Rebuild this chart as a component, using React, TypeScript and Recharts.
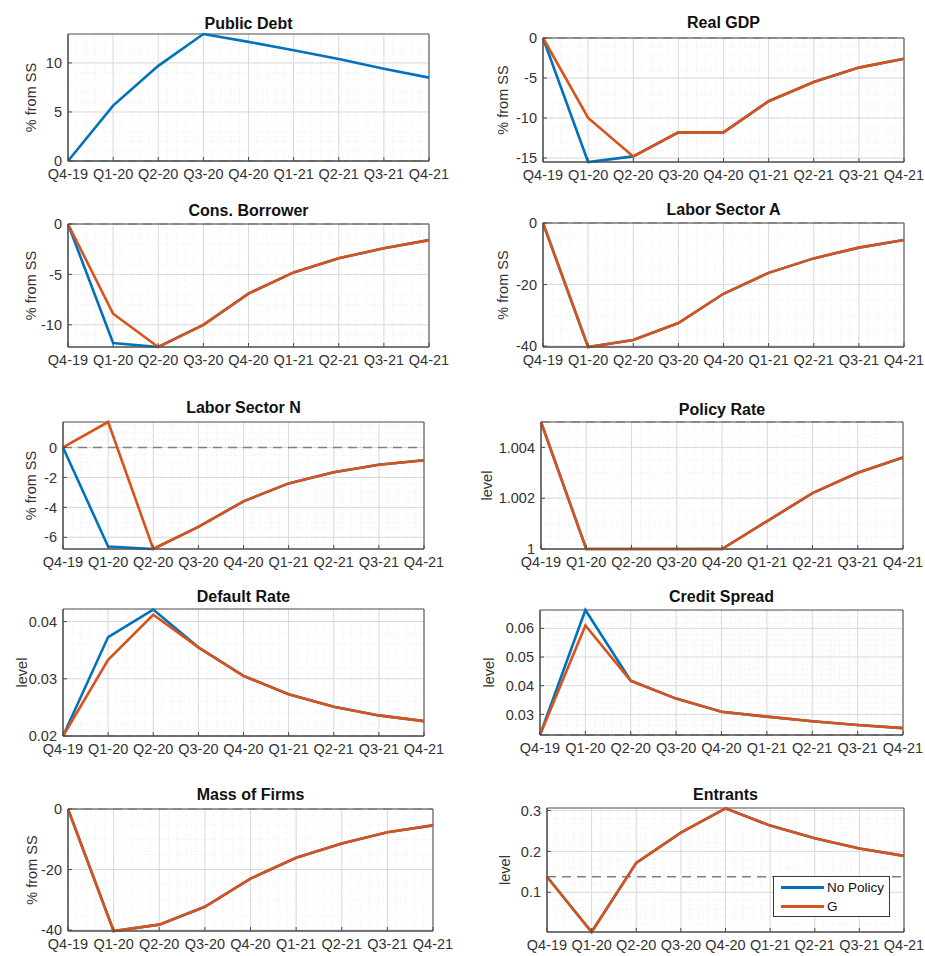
import React from 'react';
import {
  LineChart, Line, XAxis, YAxis, CartesianGrid, ReferenceLine, ReferenceArea, Legend,
} from 'recharts';

const categories = ['Q4-19', 'Q1-20', 'Q2-20', 'Q3-20', 'Q4-20', 'Q1-21', 'Q2-21', 'Q3-21', 'Q4-21'];

const publicDebtNoPolicy = [0, 5.65, 9.7, 12.95, 12.15, 11.3, 10.4, 9.4, 8.5];

const realGdpNoPolicy = [0, -15.5, -14.8, -11.8, -11.8, -7.9, -5.5, -3.7, -2.6];
const realGdpG = [0, -10, -14.8, -11.8, -11.8, -7.9, -5.5, -3.7, -2.6];

const consBorrowerNoPolicy = [0, -11.8, -12.2, -10, -6.9, -4.8, -3.4, -2.4, -1.6];
const consBorrowerG = [0, -8.9, -12.2, -10, -6.9, -4.8, -3.4, -2.4, -1.6];

const laborANoPolicy = [0, -40.3, -38, -32.5, -23, -16.2, -11.5, -8, -5.5];
const laborAG = [0, -40.3, -38, -32.5, -23, -16.2, -11.5, -8, -5.5];

const laborNNoPolicy = [0, -6.62, -6.78, -5.3, -3.6, -2.4, -1.65, -1.15, -0.85];
const laborNG = [0, 1.7, -6.78, -5.3, -3.6, -2.4, -1.65, -1.15, -0.85];

const policyRateNoPolicy = [1.005, 1, 1, 1, 1, 1.0011, 1.0022, 1.003, 1.0036];
const policyRateG = [1.005, 1, 1, 1, 1, 1.0011, 1.0022, 1.003, 1.0036];

const defaultRateNoPolicy = [0.02, 0.0373, 0.0421, 0.0355, 0.0305, 0.0273, 0.0251, 0.0236, 0.0226];
const defaultRateG = [0.02, 0.0333, 0.0412, 0.0355, 0.0305, 0.0273, 0.0251, 0.0236, 0.0226];

const creditSpreadNoPolicy = [0.0228, 0.0664, 0.0417, 0.0355, 0.0309, 0.0292, 0.0276, 0.0263, 0.0252];
const creditSpreadG = [0.0228, 0.061, 0.0417, 0.0355, 0.0309, 0.0292, 0.0276, 0.0263, 0.0252];

const massFirmsNoPolicy = [0, -40.3, -38.2, -32.3, -23, -16.1, -11.4, -7.7, -5.4];
const massFirmsG = [0, -40.3, -38.2, -32.3, -23, -16.1, -11.4, -7.7, -5.4];

const entrantsNoPolicy = [0.138, 0.003, 0.172, 0.246, 0.305, 0.263, 0.232, 0.207, 0.189];
const entrantsG = [0.138, 0.003, 0.172, 0.246, 0.305, 0.263, 0.232, 0.207, 0.189];

const seriesNames = ['No Policy', 'G'];
const BLUE = '#0072BD';
const ORANGE = '#D95319';
const FONT = '"Liberation Sans", Arial, Helvetica, sans-serif';
const TEXT = '#333333';

function minorValues(d0: number, d1: number, step: number): number[] {
  const out: number[] = [];
  const start = Math.ceil(d0 / step - 1e-9);
  for (let k = start; k * step <= d1 + step * 1e-6; k++) out.push(+(k * step).toFixed(7));
  return out;
}

const xTicks = categories.map((_, i) => i);
const xMinor = minorValues(0, categories.length - 1, 0.2);

type PanelProps = {
  title: string;
  yLabel: string;
  L: number; T: number; R: number; B: number;
  labelX: number;
  titleY: number;
  domain: [number, number];
  ticks: number[];
  minorStep: number;
  noPolicy?: number[];
  g?: number[];
  ss: number;
  legend?: boolean;
};

function Panel(p: PanelProps) {
  const yw = 2 * (p.L - p.labelX);
  const mt = 12;
  const mr = 26;
  const xh = 34;
  const left = p.L - yw;
  const top = p.T - mt;
  const width = yw + (p.R - p.L) + mr;
  const height = mt + (p.B - p.T) + xh;
  const rows = categories.map((c, i) => ({
    idx: i,
    cat: c,
    np: p.noPolicy ? p.noPolicy[i] : undefined,
    g: p.g ? p.g[i] : undefined,
  }));
  const yMinor = minorValues(p.domain[0], p.domain[1], p.minorStep);
  const legendLeft = 773 - left;
  const legendTop = 876 - top;

  return (
    <>
      <div
        style={{
          position: 'absolute', left: p.L, width: p.R - p.L, top: p.titleY - 10, height: 20,
          lineHeight: '20px', textAlign: 'center', fontFamily: FONT, fontWeight: 'bold',
          fontSize: 16, color: '#111',
        }}
      >
        {p.title}
      </div>
      <div style={{ position: 'absolute', left, top }}>
        <LineChart width={width} height={height} data={rows} margin={{ top: mt, right: mr, left: 0, bottom: 0 }}>
          <CartesianGrid horizontalValues={yMinor} verticalValues={xMinor} stroke="#ececec" strokeDasharray="1 2" />
          <CartesianGrid horizontalValues={p.ticks} verticalValues={xTicks} stroke="#dadada" />
          <ReferenceArea x1={0} x2={categories.length - 1} fill="none" stroke="#4a4a4a" strokeWidth={1} ifOverflow="visible" />
          <XAxis
            dataKey="idx"
            type="number"
            domain={[0, categories.length - 1]}
            ticks={xTicks}
            interval={0}
            tickFormatter={(v: number) => categories[v]}
            height={xh}
            tickSize={-4}
            tickMargin={12}
            stroke="#4a4a4a"
            tick={{ fill: TEXT, fontSize: 14.5, fontFamily: FONT }}
          />
          <YAxis
            type="number"
            domain={p.domain}
            ticks={p.ticks}
            interval={0}
            width={yw}
            tickSize={-4}
            tickMargin={10}
            stroke="#4a4a4a"
            tick={{ fill: TEXT, fontSize: 14.5, fontFamily: FONT }}
            label={{ value: p.yLabel, angle: -90, position: 'center', fill: TEXT, fontSize: 14.5, fontFamily: FONT }}
          />
          <ReferenceLine y={p.ss} stroke="#808080" strokeDasharray="9 6" strokeWidth={1.6} ifOverflow="visible" />
          {p.noPolicy && (
            <Line name={seriesNames[0]} dataKey="np" type="linear" stroke={BLUE} strokeWidth={2.6} dot={false} isAnimationActive={false} />
          )}
          {p.g && (
            <Line name={seriesNames[1]} dataKey="g" type="linear" stroke={ORANGE} strokeWidth={2.6} dot={false} isAnimationActive={false} />
          )}
          {p.legend && (
            <Legend
              layout="horizontal"
              verticalAlign="middle"
              align="center"
              wrapperStyle={{ position: 'absolute', left: legendLeft, top: legendTop, width: 117, height: 41 }}
              content={() => (
                <div
                  style={{
                    width: 117, height: 41, boxSizing: 'border-box', border: '1px solid #3a3a3a',
                    background: '#fff', fontFamily: FONT, fontSize: 13.5, color: '#111', paddingTop: 1,
                  }}
                >
                  {seriesNames.map((n, i) => (
                    <div key={n} style={{ display: 'flex', alignItems: 'center', height: 19 }}>
                      <div style={{ marginLeft: 7, width: 43, height: 3, background: i === 0 ? BLUE : ORANGE }} />
                      <span style={{ marginLeft: 3 }}>{n}</span>
                    </div>
                  ))}
                </div>
              )}
            />
          )}
        </LineChart>
      </div>
    </>
  );
}

export default function App() {
  return (
    <div style={{ position: 'absolute', left: 0, top: 0, width: 925, height: 956, background: '#fff', overflow: 'hidden' }}>
      <Panel title="Public Debt" yLabel="% from SS" L={68} T={34} R={429} B={161} labelX={31} titleY={24}
        domain={[0, 12.95]} ticks={[0, 5, 10]} minorStep={1} noPolicy={publicDebtNoPolicy} ss={0} />
      <Panel title="Real GDP" yLabel="% from SS" L={543} T={38} R={904} B={162} labelX={503} titleY={23}
        domain={[-15.5, 0]} ticks={[-15, -10, -5, 0]} minorStep={1} noPolicy={realGdpNoPolicy} g={realGdpG} ss={0} />
      <Panel title="Cons. Borrower" yLabel="% from SS" L={68} T={224} R={429} B={347} labelX={31} titleY={211}
        domain={[-12.2, 0]} ticks={[-10, -5, 0]} minorStep={1} noPolicy={consBorrowerNoPolicy} g={consBorrowerG} ss={0} />
      <Panel title="Labor Sector A" yLabel="% from SS" L={543} T={223} R={904} B={347} labelX={503} titleY={210}
        domain={[-40.3, 0]} ticks={[-40, -20, 0]} minorStep={5} noPolicy={laborANoPolicy} g={laborAG} ss={0} />
      <Panel title="Labor Sector N" yLabel="% from SS" L={63} T={422} R={424} B={549} labelX={31} titleY={408}
        domain={[-6.78, 1.7]} ticks={[-6, -4, -2, 0]} minorStep={0.5} noPolicy={laborNNoPolicy} g={laborNG} ss={0} />
      <Panel title="Policy Rate" yLabel="level" L={541} T={422} R={903} B={549} labelX={487} titleY={410}
        domain={[1, 1.005]} ticks={[1, 1.002, 1.004]} minorStep={0.0005} noPolicy={policyRateNoPolicy} g={policyRateG} ss={1.005} />
      <Panel title="Default Rate" yLabel="level" L={63} T={609} R={424} B={736} labelX={22} titleY={597}
        domain={[0.02, 0.0422]} ticks={[0.02, 0.03, 0.04]} minorStep={0.002} noPolicy={defaultRateNoPolicy} g={defaultRateG} ss={0.02} />
      <Panel title="Credit Spread" yLabel="level" L={540} T={610} R={903} B={735} labelX={489} titleY={597}
        domain={[0.0228, 0.0664]} ticks={[0.03, 0.04, 0.05, 0.06]} minorStep={0.002} noPolicy={creditSpreadNoPolicy} g={creditSpreadG} ss={0.0228} />
      <Panel title="Mass of Firms" yLabel="% from SS" L={68} T={809} R={433} B={931} labelX={32} titleY={795}
        domain={[-40.3, 0]} ticks={[-40, -20, 0]} minorStep={5} noPolicy={massFirmsNoPolicy} g={massFirmsG} ss={0} />
      <Panel title="Entrants" yLabel="level" L={547} T={808} R={904} B={932} labelX={505} titleY={795}
        domain={[0.003, 0.306]} ticks={[0.1, 0.2, 0.3]} minorStep={0.02} noPolicy={entrantsNoPolicy} g={entrantsG} ss={0.138} legend />
    </div>
  );
}
